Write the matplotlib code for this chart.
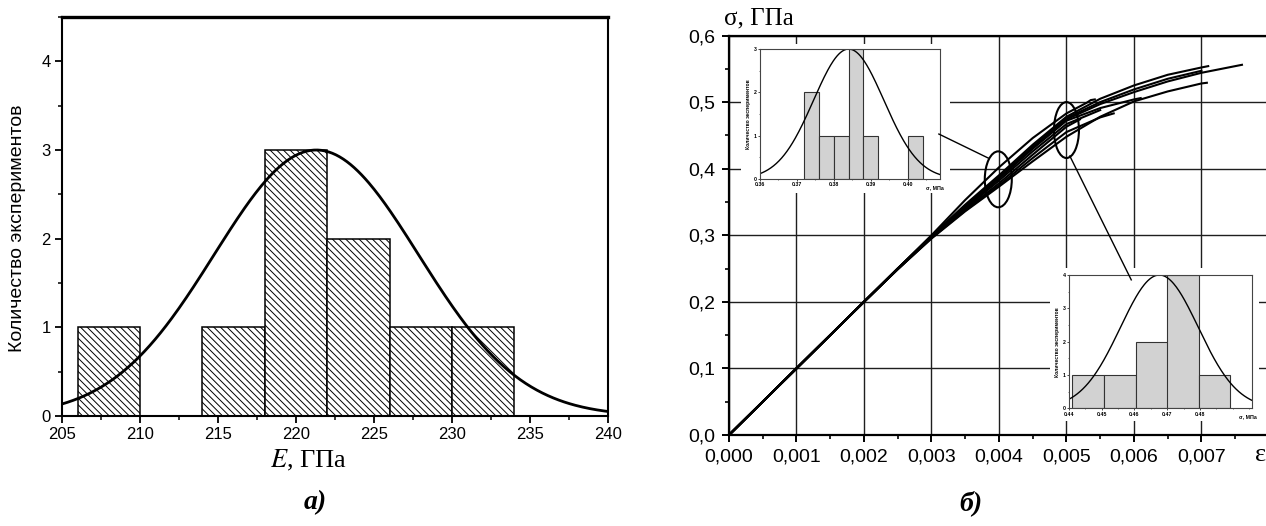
import numpy as np
import matplotlib
matplotlib.use('Agg')
import matplotlib.pyplot as plt
from matplotlib.patches import Ellipse, Rectangle
from matplotlib.lines import Line2D
from matplotlib.ticker import MultipleLocator, FixedLocator

plt.rcParams['font.family'] = ['Liberation Sans', 'DejaVu Sans']
plt.rcParams['mathtext.fontset'] = 'stix'
plt.rcParams['hatch.linewidth'] = 0.7

# panel a) - Young's modulus histogram
e_left = [206, 214, 218, 222, 226, 230]
e_count = [1, 1, 3, 2, 1, 1]
e_width = 4
e_mu, e_sd, e_peak = 221.3, 6.55, 3.0
e_ticks = [205, 210, 215, 220, 225, 230, 235, 240]

# panel b) - stress-strain curves (strain, stress GPa)
eps_a = [0, 0.002, 0.0025, 0.003, 0.0035, 0.004, 0.0045, 0.005, 0.0053, 0.00536, 0.00542]
sig_a = [0, 0.200, 0.250, 0.300, 0.353, 0.402, 0.446, 0.483, 0.499, 0.503, 0.504]
eps_b = [0, 0.002, 0.0025, 0.003, 0.0035, 0.004, 0.0045, 0.005, 0.0055, 0.006, 0.0065, 0.007, 0.0071]
sig_b = [0, 0.200, 0.250, 0.299, 0.346, 0.390, 0.436, 0.478, 0.505, 0.525, 0.541, 0.552, 0.554]
eps_c = [0, 0.002, 0.0025, 0.003, 0.0035, 0.004, 0.0045, 0.005, 0.0055, 0.006, 0.0065, 0.007]
sig_c = [0, 0.200, 0.250, 0.298, 0.344, 0.387, 0.433, 0.476, 0.500, 0.519, 0.535, 0.547]
eps_d = [0, 0.002, 0.0025, 0.003, 0.0035, 0.004, 0.0045, 0.005, 0.0055, 0.006, 0.0065, 0.007, 0.0075, 0.0076]
sig_d = [0, 0.200, 0.250, 0.298, 0.343, 0.386, 0.431, 0.474, 0.497, 0.515, 0.531, 0.544, 0.554, 0.556]
eps_e = [0, 0.002, 0.0025, 0.003, 0.0035, 0.004, 0.0045, 0.005, 0.0055, 0.006, 0.0061]
sig_e = [0, 0.200, 0.250, 0.297, 0.342, 0.385, 0.430, 0.472, 0.491, 0.504, 0.506]
eps_f = [0, 0.002, 0.0025, 0.003, 0.0035, 0.004, 0.0045, 0.005, 0.0055]
sig_f = [0, 0.200, 0.249, 0.297, 0.340, 0.382, 0.426, 0.467, 0.488]
eps_g = [0, 0.002, 0.0025, 0.003, 0.0035, 0.004, 0.0045, 0.005, 0.0052]
sig_g = [0, 0.200, 0.249, 0.296, 0.338, 0.378, 0.421, 0.463, 0.474]
eps_h = [0, 0.002, 0.0025, 0.003, 0.0035, 0.004, 0.0045, 0.005, 0.0055, 0.0057]
sig_h = [0, 0.200, 0.249, 0.296, 0.337, 0.375, 0.416, 0.455, 0.477, 0.483]
eps_i = [0, 0.002, 0.0025, 0.003, 0.0035, 0.004, 0.0045, 0.005, 0.0055, 0.006, 0.0065, 0.007, 0.00708]
sig_i = [0, 0.200, 0.249, 0.295, 0.336, 0.373, 0.411, 0.448, 0.478, 0.501, 0.516, 0.528, 0.529]
curves = [(eps_a, sig_a), (eps_b, sig_b), (eps_c, sig_c), (eps_d, sig_d), (eps_e, sig_e),
          (eps_f, sig_f), (eps_g, sig_g), (eps_h, sig_h), (eps_i, sig_i)]

strain_ticks = [0, 0.001, 0.002, 0.003, 0.004, 0.005, 0.006, 0.007]
strain_labels = ['0,000', '0,001', '0,002', '0,003', '0,004', '0,005', '0,006', '0,007']
stress_ticks = [0, 0.1, 0.2, 0.3, 0.4, 0.5, 0.6]
stress_labels = ['0,0', '0,1', '0,2', '0,3', '0,4', '0,5', '0,6']

# inset at strain 0.004
s4_left = [0.372, 0.376, 0.380, 0.384, 0.388, 0.400]
s4_count = [2, 1, 1, 3, 1, 1]
s4_width = 0.004
s4_mu, s4_sd, s4_peak = 0.3840, 0.0095, 3.0
s4_ticks = [0.36, 0.37, 0.38, 0.39, 0.40]
s4_labels = ['0.36', '0.37', '0.38', '0.39', '0.40']

# inset at strain 0.005
s5_left = [0.441, 0.4507, 0.4605, 0.470, 0.4796]
s5_count = [1, 1, 2, 4, 1]
s5_width = 0.0097
s5_mu, s5_sd, s5_peak = 0.4676, 0.0119, 4.0
s5_ticks = [0.44, 0.45, 0.46, 0.47, 0.48]
s5_labels = ['0.44', '0.45', '0.46', '0.47', '0.48']

ylab = 'Количество экспериментов'


def gauss(x, mu, sd, peak):
    return peak * np.exp(-(x - mu) ** 2 / (2 * sd ** 2))


fig = plt.figure(figsize=(12.66, 5.26), dpi=100)

# ---------------- panel a
ax1 = fig.add_axes([0.0490, 0.2091, 0.4313, 0.7586])
ax1.bar(e_left, e_count, width=e_width, align='edge', facecolor='white',
        edgecolor='black', hatch='\\\\\\\\\\', linewidth=1.1, zorder=2)
xe = np.linspace(205, 240, 300)
ax1.plot(xe, gauss(xe, e_mu, e_sd, e_peak), color='black', lw=2.0, zorder=3)
ax1.set_xlim(205, 240)
ax1.set_ylim(0, 4.5)
ax1.set_xticks(e_ticks)
ax1.xaxis.set_minor_locator(MultipleLocator(2.5))
ax1.set_yticks([0, 1, 2, 3, 4])
ax1.yaxis.set_minor_locator(MultipleLocator(0.5))
ax1.tick_params(which='major', direction='out', length=5, width=1.3, labelsize=12, pad=3)
ax1.tick_params(which='minor', direction='out', length=3, width=1.1)
for s in ax1.spines.values():
    s.set_linewidth(1.5)
ax1.spines['top'].set_linewidth(2.4)
fig.text(18 / 1266, 1 - 228 / 526, ylab, rotation=90, ha='center', va='center', fontsize=14)
fig.text(308 / 1266, 1 - 460 / 526, '$E$, ГПа', ha='center', va='center', fontsize=19,
         family=['Liberation Serif', 'DejaVu Serif'])
fig.text(315 / 1266, 1 - 503 / 526, 'а)', ha='center', va='center', fontsize=20,
         weight='bold', style='italic', family=['Liberation Serif', 'DejaVu Serif'])

# ---------------- panel b
ax2 = fig.add_axes([0.5758, 0.1730, 0.4372, 0.7595])
ax2.set_xlim(0, 0.0082)
ax2.set_ylim(0, 0.6)
ax2.set_axisbelow(True)
ax2.set_xticks(strain_ticks)
ax2.set_xticklabels(strain_labels)
ax2.xaxis.set_minor_locator(FixedLocator([0.0005, 0.0015, 0.0025, 0.0035, 0.0045,
                                          0.0055, 0.0065, 0.0075]))
ax2.set_yticks(stress_ticks)
ax2.set_yticklabels(stress_labels)
ax2.yaxis.set_minor_locator(MultipleLocator(0.05))
ax2.tick_params(which='major', direction='out', length=5, width=1.4, labelsize=14, pad=5)
ax2.tick_params(which='minor', direction='out', length=3, width=1.2)
ax2.grid(True, which='major', color='#1e1e1e', lw=1.0)
ax2.spines['right'].set_visible(False)
for k in ['left', 'bottom', 'top']:
    ax2.spines[k].set_linewidth(1.6)

for eps, sig in curves:
    ax2.plot(eps, sig, color='black', lw=1.5, zorder=2)

ax2.add_patch(Ellipse((0.00399, 0.384), 0.0004, 0.084, fill=False, lw=1.5, ec='black', zorder=3))
ax2.add_patch(Ellipse((0.00500, 0.458), 0.00037, 0.084, fill=False, lw=1.5, ec='black', zorder=3))

# white backgrounds behind the insets hide the grid
for x0, y0, x1, y1 in [(741, 44, 950, 193), (1050, 268, 1259, 421)]:
    ax2.add_patch(Rectangle((x0 / 1266, 1 - y1 / 526), (x1 - x0) / 1266, (y1 - y0) / 526,
                            transform=fig.transFigure, facecolor='white', edgecolor='none',
                            zorder=1, clip_on=False))

fig.text(724 / 1266, 1 - 18 / 526, 'σ, ГПа', ha='left', va='center', fontsize=18,
         family=['Liberation Serif', 'DejaVu Serif'])
fig.text(1255 / 1266, 1 - 455 / 526, 'ε', ha='left', va='center', fontsize=19,
         family=['Liberation Serif', 'DejaVu Serif'])
fig.text(971 / 1266, 1 - 503 / 526, 'б)', ha='center', va='center', fontsize=20,
         weight='bold', style='italic', family=['Liberation Serif', 'DejaVu Serif'])


def inset(rect, left, count, width, mu, sd, peak, xlim, ymax, ticks, labels, lab_x):
    ax = fig.add_axes(rect)
    ax.set_facecolor('white')
    ax.bar(left, count, width=width, align='edge', facecolor='#d2d2d2',
           edgecolor='#333333', linewidth=0.8)
    xs = np.linspace(xlim[0], xlim[1], 200)
    ax.plot(xs, gauss(xs, mu, sd, peak), color='black', lw=1.0)
    ax.set_xlim(*xlim)
    ax.set_ylim(0, ymax)
    ax.set_xticks(ticks)
    ax.set_xticklabels(labels)
    ax.xaxis.set_minor_locator(MultipleLocator(0.005))
    ax.set_yticks(range(ymax + 1))
    ax.yaxis.set_minor_locator(MultipleLocator(0.5))
    ax.tick_params(which='major', direction='out', length=1.5, width=0.5, labelsize=3.8, pad=1)
    ax.tick_params(which='minor', direction='out', length=1, width=0.4)
    for lbl in ax.get_xticklabels() + ax.get_yticklabels():
        lbl.set_fontweight('bold')
    for s in ax.spines.values():
        s.set_linewidth(0.8)
        s.set_color('#444444')
    ax.set_ylabel(ylab, fontsize=3.6, weight='bold', labelpad=1.5)
    ax.text(lab_x, -0.045, 'σ, МПа', transform=ax.transAxes, ha='center', va='top',
            fontsize=3.8, weight='bold')
    return ax


inset([0.6003, 0.6597, 0.1422, 0.2471], s4_left, s4_count, s4_width, s4_mu, s4_sd, s4_peak,
      (0.36, 0.4087), 3, s4_ticks, s4_labels, 0.97)
inset([0.8444, 0.2238, 0.1443, 0.2534], s5_left, s5_count, s5_width, s5_mu, s5_sd, s5_peak,
      (0.44, 0.4958), 4, s5_ticks, s5_labels, 0.98)

# connector lines from ellipses to the insets
fig.add_artist(Line2D([0.00311, 0.00384], [0.452, 0.416], transform=ax2.transData,
                      color='black', lw=1.0, zorder=10))
fig.add_artist(Line2D([0.00505, 0.00596], [0.419, 0.233], transform=ax2.transData,
                      color='black', lw=1.0, zorder=10))

fig.savefig('out.png', dpi=100)
